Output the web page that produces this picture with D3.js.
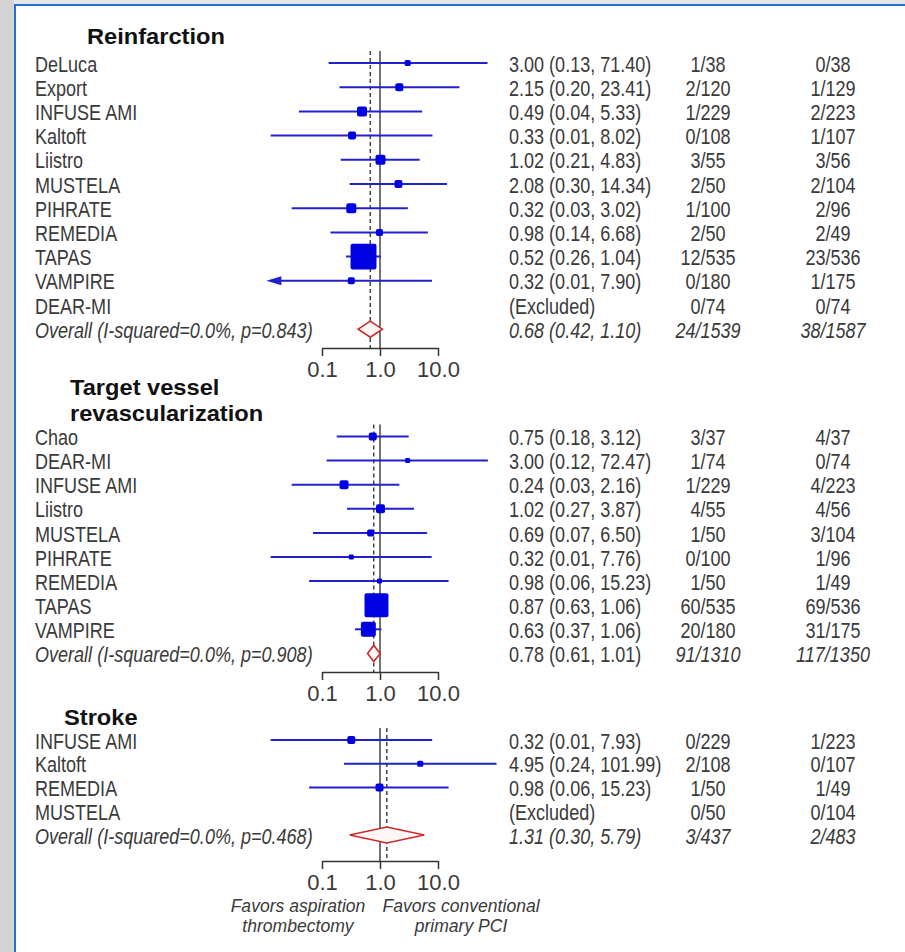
<!DOCTYPE html>
<html>
<head>
<meta charset="utf-8">
<script src="https://cdn.jsdelivr.net/npm/d3@7"></script>
<style>
  body { margin: 0; background: #fff; }
  svg { display: block; }
</style>
</head>
<body>
<div id="chart"></div>
<script>
// ---- data ----
const reinfStudies = ['DeLuca', 'Export', 'INFUSE AMI', 'Kaltoft', 'Liistro', 'MUSTELA', 'PIHRATE', 'REMEDIA', 'TAPAS', 'VAMPIRE', 'DEAR-MI'];
const reinfEs = [3.00, 2.15, 0.49, 0.33, 1.02, 2.08, 0.32, 0.98, 0.52, 0.32, null];
const reinfLo = [0.13, 0.20, 0.04, 0.013, 0.21, 0.30, 0.03, 0.14, 0.26, 0.006, null];
const reinfHi = [71.40, 23.41, 5.33, 8.02, 4.83, 14.34, 3.02, 6.68, 1.04, 7.90, null];
const reinfWeight = [2.8, 4.9, 7.7, 4.9, 7.7, 4.9, 7.7, 3.8, 51.9, 3.8, 0];
const reinfTreat = ['1/38', '2/120', '1/229', '0/108', '3/55', '2/50', '1/100', '2/50', '12/535', '0/180', '0/74'];
const reinfCtrl = ['0/38', '1/129', '2/223', '1/107', '3/56', '2/104', '2/96', '2/49', '23/536', '1/175', '0/74'];

const tvrStudies = ['Chao', 'DEAR-MI', 'INFUSE AMI', 'Liistro', 'MUSTELA', 'PIHRATE', 'REMEDIA', 'TAPAS', 'VAMPIRE'];
const tvrEs = [0.75, 3.00, 0.24, 1.02, 0.69, 0.32, 0.98, 0.87, 0.63];
const tvrLo = [0.18, 0.12, 0.03, 0.27, 0.07, 0.013, 0.06, 0.63, 0.37];
const tvrHi = [3.12, 72.47, 2.16, 3.87, 6.50, 7.76, 15.23, 1.06, 1.06];
const tvrWeight = [4.9, 1.9, 6.2, 6.2, 3.8, 1.9, 1.9, 44.2, 17.3];
const tvrTreat = ['3/37', '1/74', '1/229', '4/55', '1/50', '0/100', '1/50', '60/535', '20/180'];
const tvrCtrl = ['4/37', '0/74', '4/223', '4/56', '3/104', '1/96', '1/49', '69/536', '31/175'];

const strokeStudies = ['INFUSE AMI', 'Kaltoft', 'REMEDIA', 'MUSTELA'];
const strokeEs = [0.32, 4.95, 0.98, null];
const strokeLo = [0.013, 0.24, 0.06, null];
const strokeHi = [7.93, 101.99, 15.23, null];
const strokeWeight = [4.9, 2.8, 4.9, 0];
const strokeTreat = ['0/229', '2/108', '1/50', '0/50'];
const strokeCtrl = ['1/223', '0/107', '1/49', '0/104'];

const panelTitles = [['Reinfarction'], ['Target vessel', 'revascularization'], ['Stroke']];
const overallLabels = ['Overall (I-squared=0.0%, p=0.843)', 'Overall (I-squared=0.0%, p=0.908)', 'Overall (I-squared=0.0%, p=0.468)'];
const overallEs = [0.68, 0.78, 1.31];
const overallLo = [0.42, 0.61, 0.30];
const overallHi = [1.10, 1.01, 5.79];
const overallTreat = ['24/1539', '91/1310', '3/437'];
const overallCtrl = ['38/1587', '117/1350', '2/483'];

const axisTicks = [0.1, 1, 10];
const axisTickLabels = ['0.1', '1.0', '10.0'];
const favorsLeft = ['Favors aspiration', 'thrombectomy'];
const favorsRight = ['Favors conventional', 'primary PCI'];

// ---- layout ----
const width = 905, height = 952;
const sans = "'Liberation Sans', Arial, Helvetica, sans-serif";
const squeeze = 0.82; // row texts are drawn condensed
const textColor = '#3a3a3a';
const lineBlue = '#2020cc';
const boxBlue = '#0000e0';
const diamondRed = '#cc2a2a';

const col = {label: 35, es: 509, treat: 708, ctrl: 833};
const clipMin = 0.011;

const panels = [
  {studies: reinfStudies, es: reinfEs, lo: reinfLo, hi: reinfHi, w: reinfWeight, treat: reinfTreat, ctrl: reinfCtrl,
    titleX: 87, titleY: [44], firstRow: 63, step: 24.2, axisY: 348, esItalic: true},
  {studies: tvrStudies, es: tvrEs, lo: tvrLo, hi: tvrHi, w: tvrWeight, treat: tvrTreat, ctrl: tvrCtrl,
    titleX: 70, titleY: [395, 421], firstRow: 436.5, step: 24.1, axisY: 672, esItalic: false},
  {studies: strokeStudies, es: strokeEs, lo: strokeLo, hi: strokeHi, w: strokeWeight, treat: strokeTreat, ctrl: strokeCtrl,
    titleX: 64, titleY: [725], firstRow: 740, step: 23.75, axisY: 861, esItalic: true}
];

const x = d3.scaleLog().domain([0.1, 10]).range([322, 438]);
const boxSize = d3.scaleSqrt().domain([0, 100]).range([0, 36]);

const fmtEs = (e, l, h) => e == null ? '(Excluded)' : `${e.toFixed(2)} (${l.toFixed(2)}, ${h.toFixed(2)})`;

const svg = d3.select('#chart').append('svg')
  .attr('width', width)
  .attr('height', height);

// slide frame
svg.append('rect').attr('x', 0).attr('y', 0).attr('width', width).attr('height', 5).attr('fill', '#e6e6e6');
svg.append('rect').attr('x', 0).attr('y', 0).attr('width', 14).attr('height', height).attr('fill', '#d4d4d4');
svg.append('rect').attr('x', 14).attr('y', 4).attr('width', width - 14).attr('height', 2).attr('fill', '#2a6fd0');
svg.append('rect').attr('x', 14).attr('y', 4).attr('width', 2).attr('height', height - 4).attr('fill', '#2a6fd0');

// condensed text at (tx, ty)
function rowText(sel, tx, ty) {
  return sel
    .attr('transform', (d, i) => {
      const xx = typeof tx === 'function' ? tx(d, i) : tx;
      const yy = typeof ty === 'function' ? ty(d, i) : ty;
      return 'translate(' + xx + ',' + yy + ') scale(' + squeeze + ',1)';
    })
    .attr('font-family', sans)
    .attr('font-size', '22px')
    .attr('fill', textColor)
    .attr('dominant-baseline', 'central');
}

panels.forEach((p, pi) => {
  const g = svg.append('g');
  const nRows = p.studies.length + 1;
  const y = d3.scaleLinear().domain([0, nRows - 1]).range([p.firstRow, p.firstRow + p.step * (nRows - 1)]);
  const top = p.firstRow - 12;

  // title (one text per line, slightly widened bold)
  g.selectAll('.title')
    .data(panelTitles[pi])
    .enter()
    .append('text')
    .attr('transform', (d, i) => 'translate(' + p.titleX + ',' + p.titleY[i] + ') scale(1.1,1)')
    .attr('font-family', sans)
    .attr('font-weight', 'bold')
    .attr('font-size', '21.5px')
    .attr('fill', '#111')
    .text(d => d);

  // reference lines
  g.append('line')
    .attr('x1', x(1)).attr('x2', x(1))
    .attr('y1', top).attr('y2', p.axisY)
    .attr('stroke', '#444').attr('stroke-width', 1.5);
  g.append('line')
    .attr('x1', x(overallEs[pi])).attr('x2', x(overallEs[pi]))
    .attr('y1', top).attr('y2', p.axisY)
    .attr('stroke', '#444').attr('stroke-width', 1.5)
    .attr('stroke-dasharray', '4,3');

  // study rows
  const rows = p.studies.map((s, i) => ({
    name: s, es: p.es[i], lo: p.lo[i], hi: p.hi[i], w: p.w[i], treat: p.treat[i], ctrl: p.ctrl[i], i
  }));
  const shown = rows.filter(d => d.es != null);

  g.selectAll('.ci')
    .data(shown)
    .enter()
    .append('line')
    .attr('x1', d => d.lo < clipMin ? x(clipMin) + 14 : x(d.lo))
    .attr('x2', d => x(d.hi))
    .attr('y1', d => y(d.i))
    .attr('y2', d => y(d.i))
    .attr('stroke', lineBlue)
    .attr('stroke-width', 2);

  g.selectAll('.arrow')
    .data(shown.filter(d => d.lo < clipMin))
    .enter()
    .append('path')
    .attr('d', d => {
      const tip = x(clipMin), yy = y(d.i);
      return `M${tip},${yy}L${tip + 15},${yy - 4.5}L${tip + 15},${yy + 4.5}Z`;
    })
    .attr('fill', lineBlue);

  g.selectAll('.box')
    .data(shown)
    .enter()
    .append('rect')
    .attr('x', d => x(d.es) - boxSize(d.w) / 2)
    .attr('y', d => y(d.i) - boxSize(d.w) / 2)
    .attr('width', d => boxSize(d.w))
    .attr('height', d => boxSize(d.w))
    .attr('rx', d => Math.min(2, boxSize(d.w) / 4))
    .attr('fill', boxBlue);

  // overall diamond
  const oy = y(nRows - 1);
  const dh = 8;
  g.append('path')
    .attr('d', `M${x(overallLo[pi])},${oy}L${x(overallEs[pi])},${oy - dh}L${x(overallHi[pi])},${oy}L${x(overallEs[pi])},${oy + dh}Z`)
    .attr('fill', '#fff6f6')
    .attr('stroke', diamondRed)
    .attr('stroke-width', 1.6);

  // row texts
  rowText(g.selectAll('.lab').data(rows).enter().append('text'), col.label, d => y(d.i) + 1)
    .text(d => d.name);
  rowText(g.selectAll('.es').data(rows).enter().append('text'), col.es, d => y(d.i) + 1)
    .text(d => fmtEs(d.es, d.lo, d.hi));
  rowText(g.selectAll('.tr').data(rows).enter().append('text'), col.treat, d => y(d.i) + 1)
    .attr('text-anchor', 'middle').text(d => d.treat);
  rowText(g.selectAll('.ct').data(rows).enter().append('text'), col.ctrl, d => y(d.i) + 1)
    .attr('text-anchor', 'middle').text(d => d.ctrl);

  // overall row texts
  rowText(g.append('text'), col.label, oy + 1).attr('font-style', 'italic')
    .text(overallLabels[pi]);
  rowText(g.append('text'), col.es, oy + 1).attr('font-style', p.esItalic ? 'italic' : 'normal')
    .text(fmtEs(overallEs[pi], overallLo[pi], overallHi[pi]));
  rowText(g.append('text'), col.treat, oy + 1).attr('font-style', 'italic').attr('text-anchor', 'middle')
    .text(overallTreat[pi]);
  rowText(g.append('text'), col.ctrl, oy + 1).attr('font-style', 'italic').attr('text-anchor', 'middle')
    .text(overallCtrl[pi]);

  // axis
  const axis = g.append('g')
    .attr('transform', 'translate(0,' + p.axisY + ')')
    .call(d3.axisBottom(x)
      .tickValues(axisTicks)
      .tickFormat((d, i) => axisTickLabels[i])
      .tickSize(8)
      .tickSizeOuter(0)
      .tickPadding(5));
  axis.select('.domain').attr('stroke', '#333').attr('stroke-width', 1.5);
  axis.selectAll('.tick line').attr('stroke', '#333').attr('stroke-width', 1.5);
  axis.selectAll('.tick text')
    .attr('font-family', sans)
    .attr('font-size', '22px')
    .attr('fill', textColor);
});

// favours labels under the last axis
const favY = [906, 926];
const favors = svg.append('g')
  .attr('font-family', sans)
  .attr('font-style', 'italic')
  .attr('font-size', '18.5px')
  .attr('fill', textColor)
  .attr('text-anchor', 'middle')
  .attr('dominant-baseline', 'central');
favors.selectAll('.fl').data(favorsLeft).enter().append('text')
  .attr('transform', (d, i) => 'translate(' + (x(1) - 82) + ',' + favY[i] + ') scale(0.95,1)')
  .text(d => d);
favors.selectAll('.fr').data(favorsRight).enter().append('text')
  .attr('transform', (d, i) => 'translate(' + (x(1) + 81) + ',' + favY[i] + ') scale(0.95,1)')
  .text(d => d);
</script>
</body>
</html>
